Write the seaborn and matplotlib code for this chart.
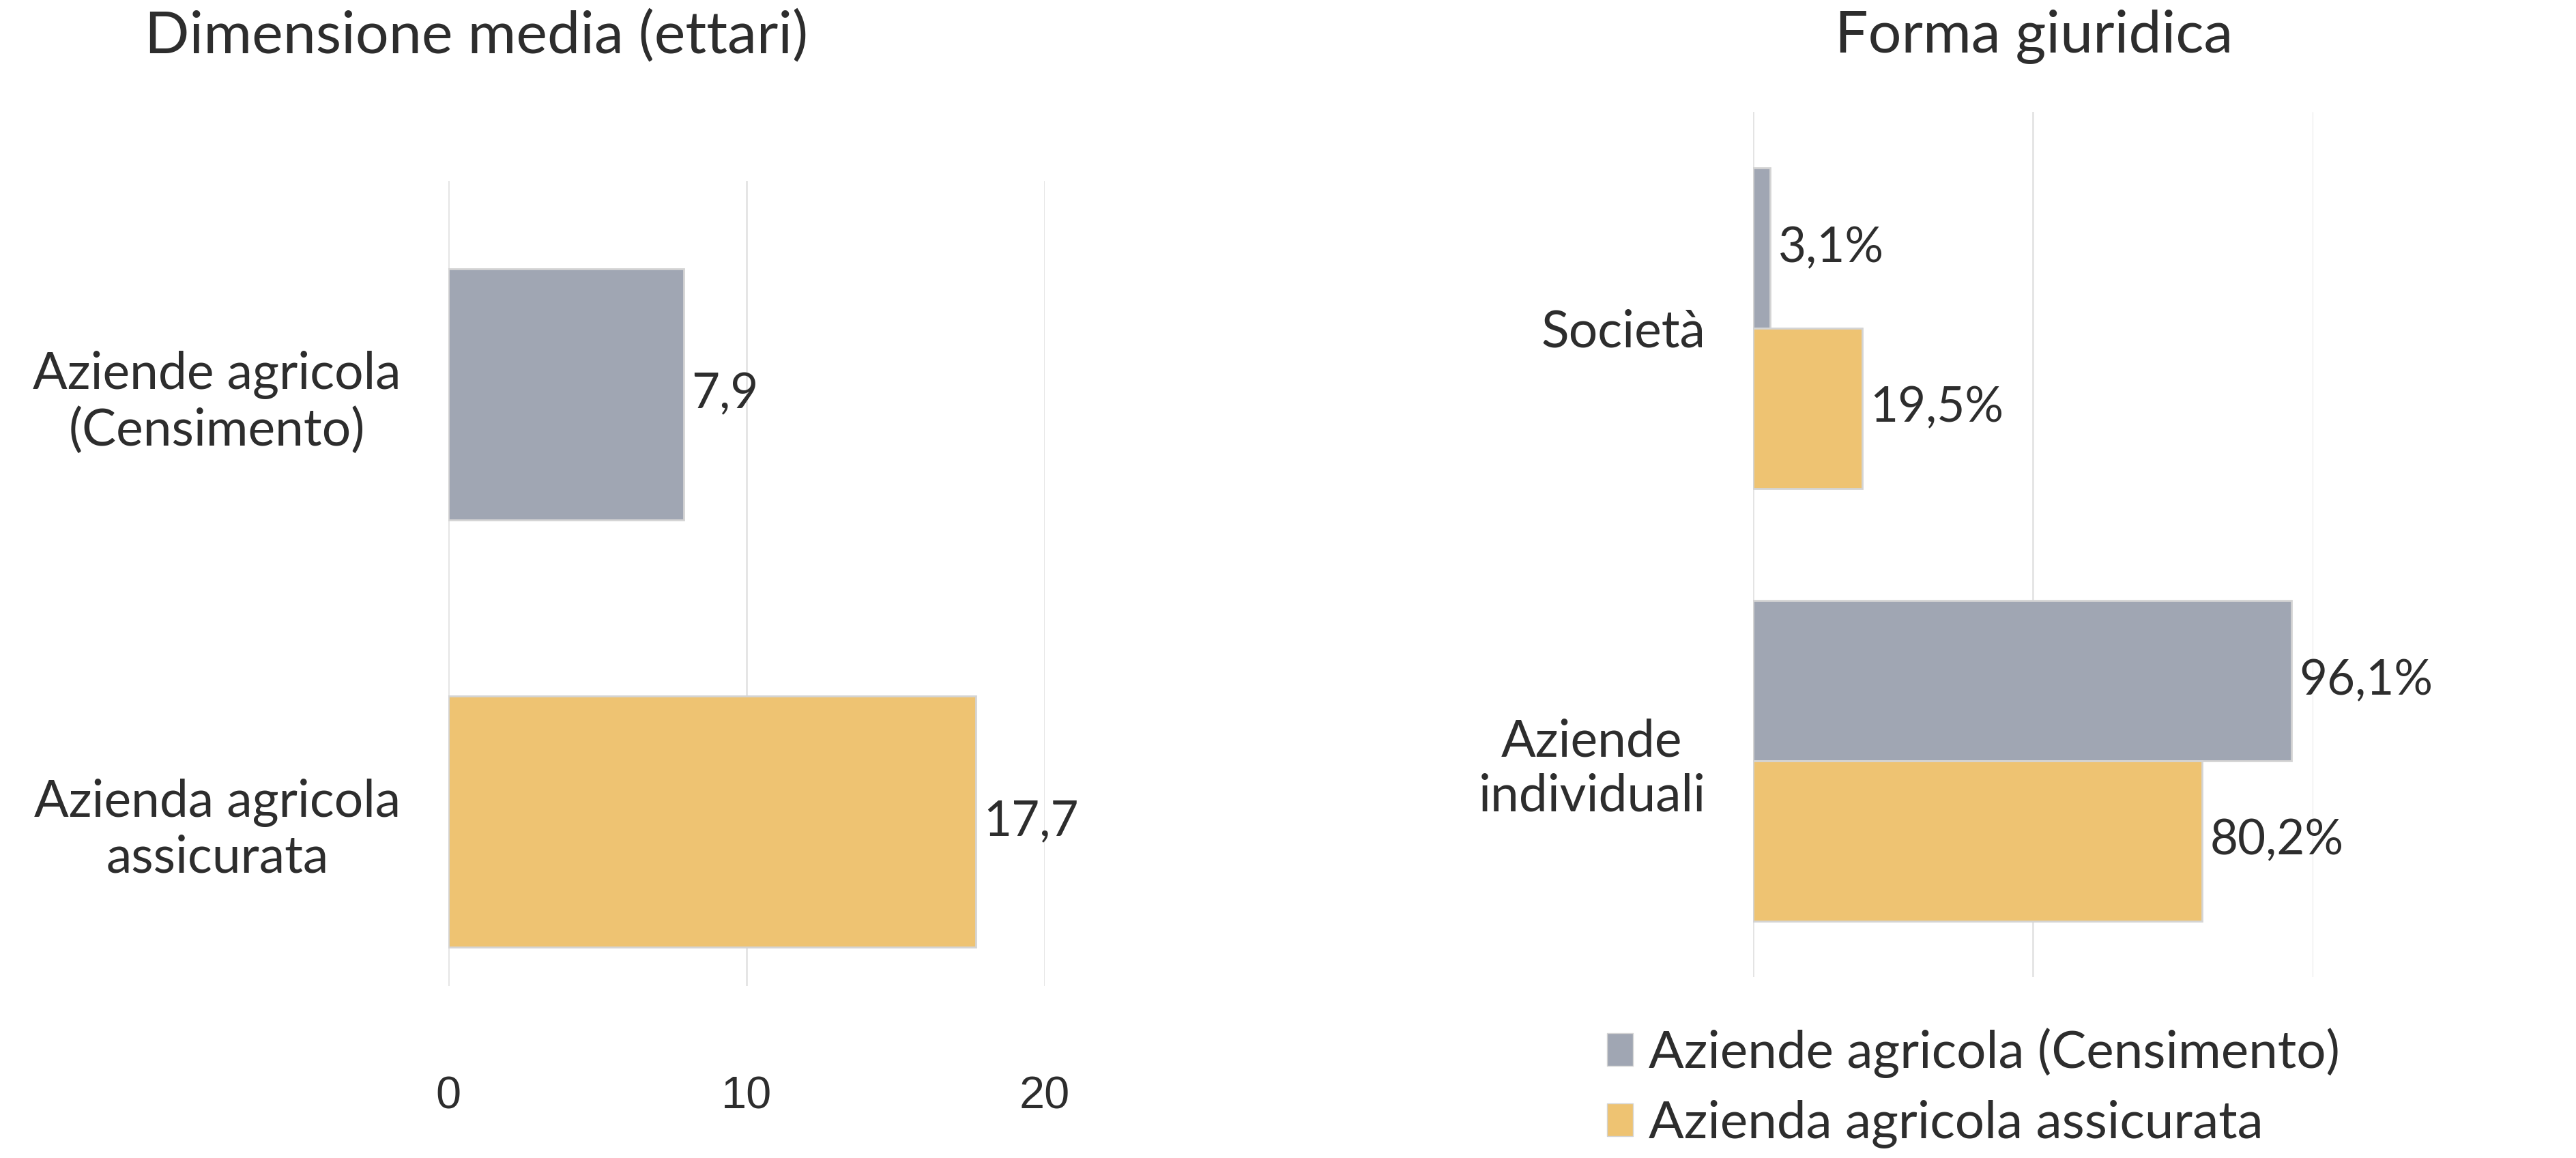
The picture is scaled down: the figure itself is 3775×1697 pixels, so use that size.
import numpy as np
import pandas as pd
import seaborn as sns
import matplotlib.pyplot as plt
from matplotlib.patches import Patch

# --- data ---
serie = ["Aziende agricola (Censimento)", "Azienda agricola assicurata"]
dim_labels = ["Aziende agricola\n(Censimento)", "Azienda agricola\nassicurata"]
dim_values = [7.9, 17.7]  # ettari
dim_ticks = [0, 10, 20]

forme = ["Società", "Aziende\nindividuali"]
forma_censimento = [3.1, 96.1]  # %
forma_assicurata = [19.5, 80.2]  # %

grigio = "#a0a6b3"
oro = "#eec372"
testo = "#2d2d2d"
bordo = "#d4d4d4"

sns.set_theme(style="white")
plt.rcParams["font.family"] = ["Lato", "DejaVu Sans"]
plt.rcParams["text.color"] = testo

fig = plt.figure(figsize=(37.75, 16.97), dpi=100)

# --- left: dimensione media ---
ax1 = fig.add_axes([0.1740, 0.1485, 0.2315, 0.6953])
df1 = pd.DataFrame({"cat": dim_labels, "val": dim_values})
sns.barplot(data=df1, x="val", y="cat", hue="cat", palette=[grigio, oro],
            saturation=1, width=0.588, orient="h", ax=ax1, legend=False,
            edgecolor=bordo, linewidth=2)
ax1.set_xlim(0, 20)
ax1.set_ylim(1.385, -0.5)
ax1.set_xticks(dim_ticks)
ax1.set_xticklabels([str(t) for t in dim_ticks])
ax1.grid(axis="x", color="#e4e4e4", linewidth=2)
ax1.set_axisbelow(True)
ax1.set_xlabel("")
ax1.set_ylabel("")
ax1.tick_params(axis="x", labelsize=48, pad=95, length=0, colors=testo)
ax1.tick_params(axis="y", labelsize=54, pad=50, length=0, colors=testo)
for t in ax1.xaxis.get_major_ticks():
    t.label1.set_fontfamily("Liberation Sans")
for lab in ax1.get_yticklabels():
    lab.set_multialignment("center")
for c in ax1.containers:
    ax1.bar_label(c, labels=[f"{v:.1f}".replace(".", ",") for v in c.datavalues],
                  padding=8, fontsize=51, color=testo)
sns.despine(ax=ax1, left=True, bottom=True)
fig.text(698 / 3775, 1 - 53 / 1697, "Dimensione media (ettari)", ha="center",
         va="center", fontsize=62, color=testo)

# --- right: forma giuridica ---
ax2 = fig.add_axes([0.6805, 0.1562, 0.2175, 0.7472])
df2 = pd.DataFrame({
    "forma": forme * 2,
    "serie": [serie[0]] * 2 + [serie[1]] * 2,
    "val": forma_censimento + forma_assicurata,
})
sns.barplot(data=df2, x="val", y="forma", hue="serie", hue_order=serie,
            palette=[grigio, oro], saturation=1, width=0.74, orient="h", ax=ax2,
            edgecolor=bordo, linewidth=2)
ax2.legend_.remove()
ax2.set_xlim(0, 100)
ax2.set_ylim(1.5, -0.5)
ax2.set_xticks([0, 50, 100])
ax2.set_xticklabels([])
ax2.grid(axis="x", color="#e4e4e4", linewidth=2)
ax2.set_axisbelow(True)
ax2.set_xlabel("")
ax2.set_ylabel("")
ax2.tick_params(axis="x", length=0)
ax2.tick_params(axis="y", labelsize=54, pad=50, length=0, colors=testo)
for lab in ax2.get_yticklabels():
    lab.set_multialignment("center")
for c in ax2.containers:
    ax2.bar_label(c, labels=[f"{v:.1f}%".replace(".", ",") for v in c.datavalues],
                  padding=8, fontsize=51, color=testo)
sns.despine(ax=ax2, left=True, bottom=True)
fig.text(2981 / 3775, 1 - 53 / 1697, "Forma giuridica", ha="center",
         va="center", fontsize=62, color=testo)

handles = [Patch(facecolor=grigio, edgecolor=bordo),
           Patch(facecolor=oro, edgecolor=bordo)]
fig.legend(handles, serie, loc="upper left", bbox_to_anchor=(2355 / 3775, 1 - 1506 / 1697),
           frameon=False, fontsize=55, handlelength=0.5, handleheight=0.6,
           handletextpad=0.3, labelspacing=0.42, borderaxespad=0, borderpad=0)

fig.savefig("out.png", dpi=100, facecolor="white")
